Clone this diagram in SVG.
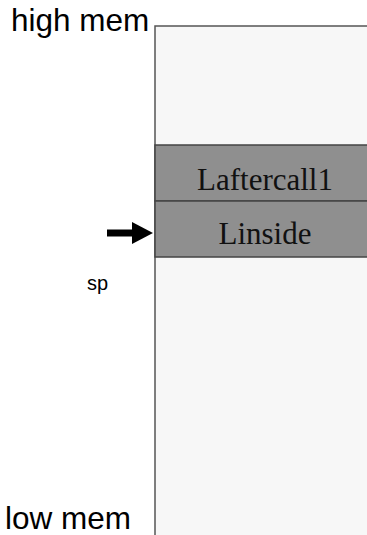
<svg xmlns="http://www.w3.org/2000/svg" width="367" height="535" viewBox="0 0 367 535">
  <style>
    .label { font-family: "Liberation Sans", Arial, sans-serif; fill: #000; }
    .slot { fill: #8f8f8f; stroke: #444; stroke-width: 1.5; }
    .slot-text { font-family: "Liberation Serif", "Times New Roman", serif; font-size: 31px; fill: #111; text-anchor: middle; }
  </style>
  <!-- memory region -->
  <g id="stack">
    <rect x="155" y="26" width="220" height="520" fill="#f7f7f7"/>
    <path d="M155,535 V26 H367" fill="none" stroke="#555" stroke-width="1.5"/>
  </g>
  <g id="laftercall1">
    <rect class="slot" x="155" y="145" width="220" height="56"/>
    <text class="slot-text" x="265" y="190">Laftercall1</text>
  </g>
  <g id="linside">
    <rect class="slot" x="155" y="201" width="220" height="56"/>
    <text class="slot-text" x="265" y="244">Linside</text>
  </g>
  <g id="connectors">
    <path d="M107,233 H133" stroke="#000" stroke-width="7"/>
    <polygon points="132,222 153,233 132,244" fill="#000"/>
  </g>
  <text class="label" x="11" y="31" font-size="31.5">high mem</text>
  <text class="label" x="87" y="290" font-size="20">sp</text>
  <text class="label" x="5" y="529" font-size="31.5">low mem</text>
</svg>
